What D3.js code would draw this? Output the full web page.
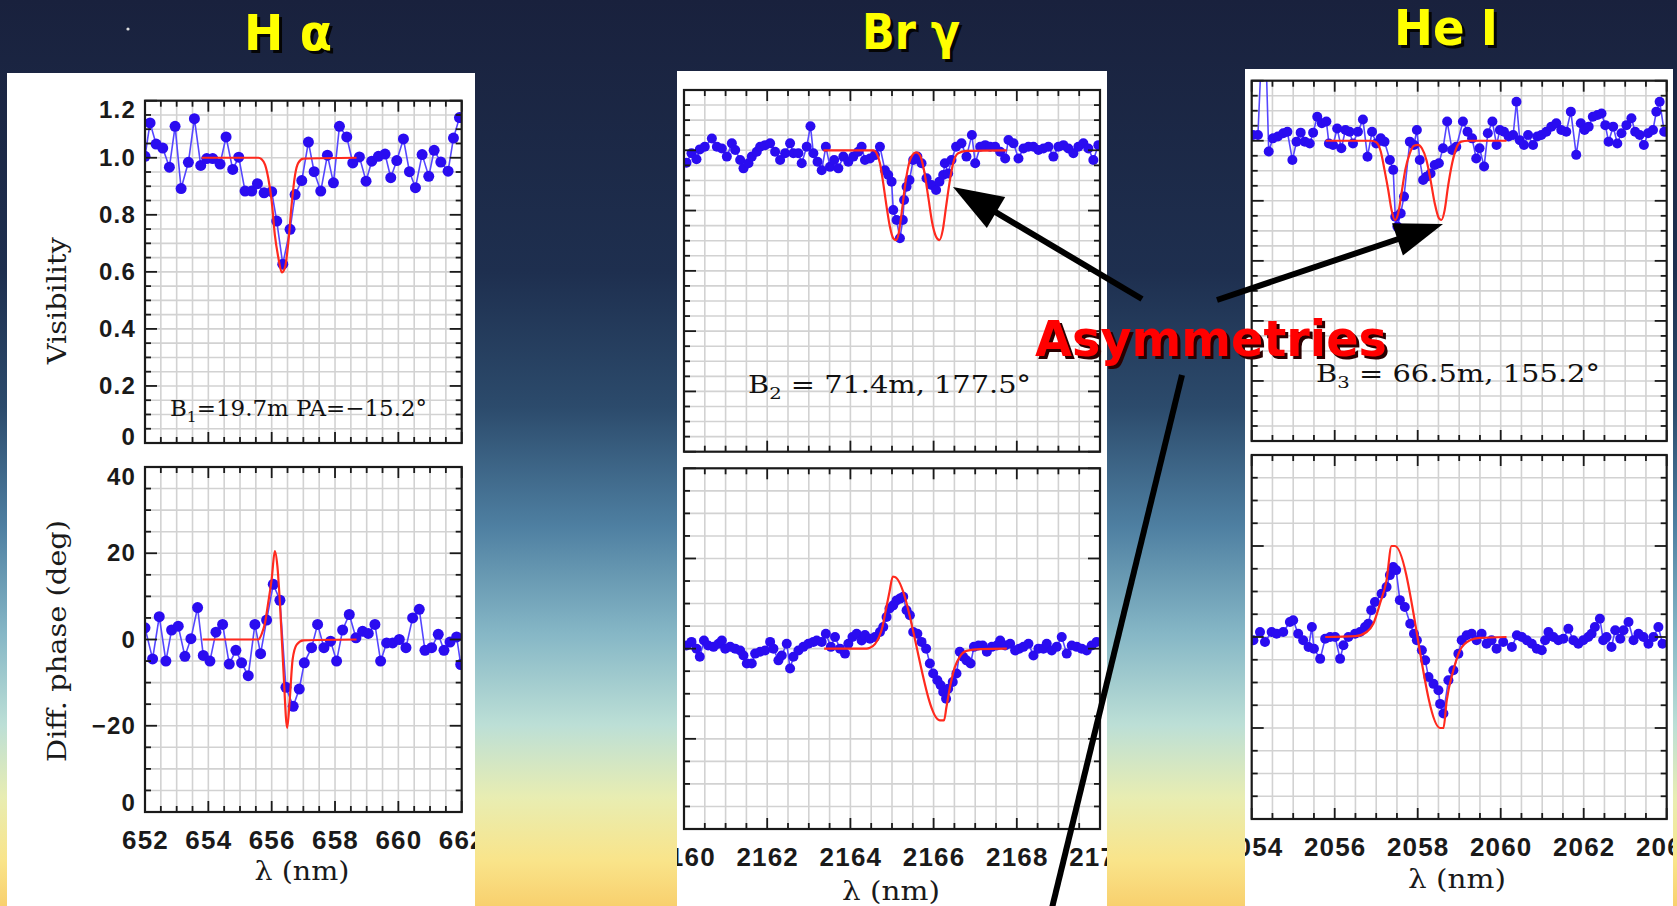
<!DOCTYPE html>
<html>
<head>
<meta charset="UTF-8">
<title>H alpha, Br gamma, He I</title>
<script src="https://d3js.org/d3.v7.min.js"></script>
<style>
  html, body { margin: 0; padding: 0; background: #1a2240; overflow: hidden; }
  svg { display: block; }
</style>
</head>
<body>
<div id="chart"></div>
<script>
// ---- H alpha (nm) ----
const haLam = [652.00, 652.16, 652.35, 652.56, 652.77, 652.95, 653.14, 653.37, 653.56, 653.76, 653.95, 654.14, 654.37, 654.56, 654.77, 654.96, 655.16, 655.37, 655.55, 655.76, 656.00, 656.16, 656.35, 656.58, 656.74, 656.95, 657.16, 657.34, 657.55, 657.76, 657.95, 658.14, 658.37, 658.56, 658.77, 658.98, 659.16, 659.37, 659.58, 659.76, 659.95, 660.16, 660.35, 660.54, 660.75, 660.96, 661.13, 661.34, 661.57, 661.74, 661.93];
const haVis = [1.005, 1.122, 1.048, 1.034, 0.967, 1.110, 0.892, 0.984, 1.137, 0.973, 0.997, 0.997, 0.978, 1.073, 0.959, 1.002, 0.883, 0.883, 0.909, 0.877, 0.881, 0.778, 0.627, 0.749, 0.871, 0.920, 1.055, 0.951, 0.883, 1.009, 0.912, 1.110, 1.073, 0.982, 1.003, 0.918, 0.988, 1.005, 1.013, 0.930, 0.990, 1.066, 0.951, 0.895, 1.011, 0.935, 1.026, 0.985, 0.953, 1.069, 1.141];
const haPhiLam = [652.00, 652.24, 652.45, 652.66, 652.84, 653.05, 653.26, 653.45, 653.66, 653.84, 654.05, 654.24, 654.45, 654.66, 654.87, 655.05, 655.26, 655.47, 655.65, 655.84, 656.05, 656.26, 656.45, 656.68, 656.87, 657.03, 657.26, 657.45, 657.65, 657.86, 658.05, 658.24, 658.45, 658.66, 658.87, 659.05, 659.26, 659.44, 659.63, 659.82, 660.03, 660.24, 660.45, 660.66, 660.84, 661.05, 661.26, 661.44, 661.63, 661.84, 661.97];
const haPhi = [2.7, -4.5, 5.3, -5.0, 2.2, 3.1, -3.9, 0.2, 7.4, -3.7, -5.0, 1.7, 3.5, -5.7, -2.5, -5.4, -8.4, 3.5, -3.3, 4.5, 12.8, 9.1, -11.1, -15.5, -11.5, -5.4, -1.9, 3.5, -1.9, -0.4, -5.0, 2.2, 5.8, 0.4, 1.9, 1.4, 3.5, -5.0, -0.8, -0.8, 0.0, -1.9, 5.0, 7.0, -2.5, -1.9, 1.2, -2.5, -0.6, 0.6, -5.8];
const haModelLam = [653.79, 655.58, 655.68, 655.79, 655.89, 656.00, 656.10, 656.21, 656.32, 656.42, 656.53, 656.63, 656.74, 656.84, 657.00, 658.68];
const haModelVis = [1.0, 1.0, 0.995, 0.976, 0.93, 0.848, 0.73, 0.65, 0.598, 0.615, 0.708, 0.836, 0.941, 0.982, 0.997, 1.0];
const haModelPhiLam = [653.82, 655.58, 655.68, 655.79, 655.89, 656.00, 656.10, 656.18, 656.26, 656.37, 656.49, 656.57, 656.66, 656.79, 657.00, 658.68];
const haModelPhi = [0, 0, 1.2, 3.9, 8.5, 14.0, 20.5, 17.0, 8.5, -7.0, -20.5, -14.0, -4.7, -1.2, -0.2, 0];

// ---- Br gamma (nm) ----
const brgLam = [2160.06, 2160.18, 2160.30, 2160.38, 2160.50, 2160.67, 2160.79, 2160.91, 2161.03, 2161.15, 2161.23, 2161.35, 2161.43, 2161.55, 2161.63, 2161.75, 2161.83, 2161.95, 2162.07, 2162.19, 2162.31, 2162.43, 2162.55, 2162.63, 2162.75, 2162.83, 2162.95, 2163.04, 2163.11, 2163.21, 2163.31, 2163.41, 2163.51, 2163.61, 2163.71, 2163.83, 2163.95, 2164.07, 2164.19, 2164.27, 2164.35, 2164.47, 2164.59, 2164.71, 2164.83, 2164.91, 2164.99, 2165.03, 2165.11, 2165.19, 2165.26, 2165.29, 2165.35, 2165.42, 2165.51, 2165.61, 2165.71, 2165.83, 2165.95, 2166.06, 2166.14, 2166.23, 2166.27, 2166.35, 2166.43, 2166.54, 2166.67, 2166.79, 2166.92, 2167.00, 2167.12, 2167.24, 2167.36, 2167.48, 2167.60, 2167.72, 2167.80, 2167.92, 2168.04, 2168.16, 2168.28, 2168.40, 2168.52, 2168.64, 2168.76, 2168.88, 2169.00, 2169.12, 2169.24, 2169.36, 2169.48, 2169.60, 2169.72, 2169.84, 2169.96];
const brgVis = [0.959, 0.990, 0.970, 1.003, 1.012, 1.039, 1.012, 1.006, 0.979, 1.023, 1.001, 0.968, 0.940, 0.957, 0.979, 0.995, 1.012, 1.017, 1.023, 0.995, 0.968, 0.990, 1.023, 0.990, 0.990, 0.957, 1.012, 1.080, 0.990, 0.962, 0.934, 1.012, 0.945, 0.968, 0.940, 0.979, 0.962, 0.979, 0.995, 1.012, 0.968, 0.973, 0.984, 1.012, 0.934, 0.918, 0.896, 0.802, 0.769, 0.708, 0.769, 0.835, 0.879, 0.901, 0.968, 0.979, 0.957, 0.907, 0.885, 0.868, 0.896, 0.918, 0.957, 0.923, 0.968, 1.012, 1.023, 0.979, 1.051, 0.957, 1.012, 1.017, 1.012, 1.012, 0.995, 0.973, 1.034, 1.023, 0.973, 1.006, 1.012, 1.012, 1.001, 1.006, 1.012, 0.979, 1.012, 1.017, 1.006, 0.990, 1.012, 1.023, 1.006, 0.968, 1.017];
const brgPhiLam = [2160.06, 2160.18, 2160.30, 2160.38, 2160.48, 2160.58, 2160.71, 2160.83, 2160.91, 2160.99, 2161.11, 2161.23, 2161.35, 2161.43, 2161.51, 2161.63, 2161.71, 2161.83, 2161.95, 2162.07, 2162.15, 2162.27, 2162.35, 2162.47, 2162.55, 2162.63, 2162.75, 2162.87, 2162.99, 2163.11, 2163.19, 2163.31, 2163.41, 2163.53, 2163.63, 2163.75, 2163.87, 2163.95, 2164.05, 2164.15, 2164.27, 2164.35, 2164.47, 2164.59, 2164.71, 2164.79, 2164.87, 2164.94, 2165.03, 2165.11, 2165.19, 2165.27, 2165.35, 2165.43, 2165.51, 2165.61, 2165.71, 2165.82, 2165.91, 2165.99, 2166.09, 2166.17, 2166.23, 2166.30, 2166.35, 2166.46, 2166.55, 2166.63, 2166.71, 2166.79, 2166.89, 2166.97, 2167.08, 2167.18, 2167.28, 2167.40, 2167.52, 2167.60, 2167.72, 2167.84, 2167.96, 2168.06, 2168.16, 2168.28, 2168.40, 2168.52, 2168.64, 2168.72, 2168.84, 2168.96, 2169.08, 2169.20, 2169.32, 2169.44, 2169.56, 2169.68, 2169.80, 2169.92];
const brgPhi = [0.7, 1.5, 0, -1.8, 1.8, 0.7, 0.4, 1.1, 1.8, 0, 0.4, 0, -0.4, -1.5, -3.3, -3.3, -1.1, -0.7, -0.4, 1.5, 0, -2.6, -1.5, 1.1, -4.4, -1.8, -0.4, 0.4, 1.1, 1.5, 1.8, 1.5, 3.3, 0.4, 2.6, 0, -1.1, 1.1, 2.6, 3.3, 1.8, 3.0, 2.2, 2.6, 3.7, 4.8, 7.0, 8.9, 9.6, 10.7, 11.1, 11.5, 8.5, 7.4, 3.7, 3.3, 1.5, 0, -3.3, -5.5, -7.0, -8.1, -9.6, -11.1, -8.9, -7.4, -5.5, -0.7, -1.8, -2.6, -3.3, 0.4, 0.7, 0.7, -0.7, 0.4, 0.7, 1.8, 0.7, 1.1, -0.4, 0, 0.4, 1.1, -1.5, 0, 0, 1.1, -0.4, 0.4, 2.6, -1.1, 0.7, 0.4, 0, -0.4, 0.7, 1.5];
const brgModelLam = [2163.35, 2164.55, 2164.63, 2164.71, 2164.79, 2164.87, 2164.95, 2165.03, 2165.10, 2165.16, 2165.23, 2165.31, 2165.39, 2165.49, 2165.58, 2165.67, 2165.77, 2165.87, 2165.97, 2166.06, 2166.14, 2166.22, 2166.30, 2166.38, 2166.47, 2166.59, 2166.79, 2167.76];
const brgModelVis = [1.0, 1.0, 0.99, 0.957, 0.89, 0.813, 0.746, 0.708, 0.702, 0.724, 0.79, 0.879, 0.945, 0.984, 0.993, 0.984, 0.934, 0.846, 0.757, 0.713, 0.702, 0.735, 0.813, 0.89, 0.957, 0.99, 0.998, 1.0];
const brgModelPhiLam = [2163.37, 2164.39, 2164.47, 2164.59, 2164.69, 2164.77, 2164.85, 2164.94, 2165.02, 2165.07, 2166.15, 2166.25, 2166.31, 2166.41, 2166.51, 2166.63, 2166.79, 2167.12, 2167.76];
const brgModelPhi = [0, 0, 0.2, 1.0, 2.6, 4.8, 8.5, 12.6, 16.0, 15.9, -15.9, -15.9, -12.9, -7.8, -4.1, -1.8, -0.5, -0.1, 0];

// ---- He I (nm) ----
const heLam = [2054.03, 2054.15, 2054.30, 2054.41, 2054.51, 2054.63, 2054.76, 2054.86, 2054.98, 2055.08, 2055.18, 2055.28, 2055.40, 2055.48, 2055.58, 2055.69, 2055.80, 2055.86, 2055.96, 2056.06, 2056.16, 2056.26, 2056.36, 2056.44, 2056.56, 2056.68, 2056.79, 2056.90, 2057.00, 2057.11, 2057.20, 2057.33, 2057.41, 2057.46, 2057.51, 2057.59, 2057.67, 2057.81, 2057.91, 2057.98, 2058.05, 2058.13, 2058.21, 2058.31, 2058.41, 2058.51, 2058.61, 2058.71, 2058.83, 2058.93, 2059.09, 2059.20, 2059.31, 2059.41, 2059.49, 2059.60, 2059.69, 2059.80, 2059.90, 2059.98, 2060.08, 2060.19, 2060.30, 2060.38, 2060.46, 2060.56, 2060.66, 2060.78, 2060.88, 2060.98, 2061.10, 2061.22, 2061.34, 2061.46, 2061.58, 2061.69, 2061.82, 2061.93, 2062.02, 2062.12, 2062.22, 2062.33, 2062.43, 2062.52, 2062.60, 2062.71, 2062.81, 2062.91, 2063.03, 2063.15, 2063.24, 2063.35, 2063.45, 2063.55, 2063.67, 2063.75, 2063.83, 2063.94];
const heVis = [1.019, 1.019, 1.5, 0.964, 1.008, 1.014, 1.025, 1.030, 0.936, 0.997, 1.027, 0.997, 0.991, 1.027, 1.080, 1.058, 1.064, 0.991, 0.986, 1.041, 0.975, 1.036, 1.030, 0.991, 1.030, 1.071, 0.947, 1.030, 0.991, 1.008, 0.997, 0.936, 0.903, 0.747, 0.714, 0.758, 0.814, 0.997, 0.986, 1.036, 0.936, 0.869, 0.880, 0.891, 0.919, 0.925, 0.975, 1.064, 0.969, 0.980, 1.064, 1.030, 1.008, 0.941, 0.975, 0.914, 1.025, 1.064, 0.986, 1.036, 1.030, 1.014, 1.019, 1.130, 1.002, 0.986, 1.019, 0.986, 1.014, 1.019, 1.030, 1.047, 1.058, 1.036, 1.030, 1.097, 0.953, 1.058, 1.036, 1.047, 1.080, 1.086, 1.091, 1.052, 0.997, 1.047, 0.991, 1.025, 1.052, 1.075, 1.030, 1.019, 0.986, 1.025, 1.036, 1.097, 1.130, 1.030];
const hePhiLam = [2054.04, 2054.20, 2054.32, 2054.48, 2054.60, 2054.76, 2054.92, 2055.00, 2055.12, 2055.24, 2055.37, 2055.45, 2055.50, 2055.65, 2055.77, 2055.89, 2056.01, 2056.13, 2056.21, 2056.33, 2056.49, 2056.61, 2056.73, 2056.81, 2056.88, 2056.97, 2057.13, 2057.25, 2057.33, 2057.41, 2057.48, 2057.57, 2057.69, 2057.82, 2057.91, 2057.98, 2058.10, 2058.18, 2058.26, 2058.38, 2058.50, 2058.54, 2058.62, 2058.74, 2058.86, 2058.98, 2059.06, 2059.18, 2059.30, 2059.42, 2059.54, 2059.66, 2059.78, 2059.90, 2060.06, 2060.27, 2060.39, 2060.51, 2060.63, 2060.75, 2060.87, 2060.99, 2061.07, 2061.15, 2061.27, 2061.39, 2061.51, 2061.63, 2061.75, 2061.87, 2061.99, 2062.11, 2062.19, 2062.27, 2062.39, 2062.47, 2062.55, 2062.67, 2062.76, 2062.88, 2062.96, 2063.08, 2063.20, 2063.32, 2063.44, 2063.56, 2063.68, 2063.80, 2063.90];
const hePhi = [-0.7, 1.1, -1.1, 1.1, 0.7, 1.1, 3.3, 3.7, 0.7, -0.7, -2.2, 2.2, -2.6, -4.8, -0.4, 0, 0, -4.8, -1.8, 0, 0.7, 1.1, 2.2, 2.9, 5.9, 7.7, 9.5, 11.0, 13.6, 15.4, 14.7, 8.1, 6.6, 2.9, 0.7, -0.7, -2.9, -5.1, -8.8, -10.3, -11.7, -14.7, -16.8, -9.5, -7.3, -3.7, -0.7, 0.4, 0.7, -0.7, 0.7, -1.5, -0.7, -2.6, -1.1, -2.2, 0.4, 0, -0.7, -1.5, -2.6, -2.9, -0.7, 1.1, 0, -0.7, -0.4, 1.8, -0.7, -1.5, -0.7, 0, 0.7, 2.2, 4.0, -0.7, 0, -2.2, 1.5, -0.4, 1.5, 3.3, -0.7, 0.7, 0, -1.5, 0, 2.2, -1.5];
const heModelLam = [2055.78, 2056.88, 2057.00, 2057.11, 2057.20, 2057.29, 2057.37, 2057.45, 2057.53, 2057.61, 2057.70, 2057.81, 2057.91, 2058.01, 2058.10, 2058.21, 2058.31, 2058.41, 2058.51, 2058.57, 2058.65, 2058.73, 2058.83, 2058.93, 2059.05, 2059.21, 2060.14];
const heModelVis = [1.0, 1.0, 0.995, 0.964, 0.903, 0.836, 0.769, 0.736, 0.758, 0.825, 0.903, 0.958, 0.983, 0.986, 0.975, 0.936, 0.869, 0.792, 0.742, 0.736, 0.769, 0.847, 0.925, 0.975, 0.997, 1.0, 1.0];
const heModelPhiLam = [2055.77, 2056.50, 2056.77, 2056.93, 2057.09, 2057.25, 2057.37, 2057.45, 2058.54, 2058.62, 2058.70, 2058.86, 2059.02, 2059.26, 2059.50, 2060.14];
const heModelPhi = [0, 0.2, 1.1, 2.9, 7.3, 12.5, 20, 20, -20, -20, -13.9, -7.3, -2.9, -0.7, -0.2, 0];

// ---- axes ----
const haTicks = [652, 654, 656, 658, 660, 662];
const brgTicks = [2160, 2162, 2164, 2166, 2168, 2170];
const heTicks = [2054, 2056, 2058, 2060, 2062, 2064];
const visTicks = [0, 0.2, 0.4, 0.6, 0.8, 1.0, 1.2];
const visTickLabels = ["0", "0.2", "0.4", "0.6", "0.8", "1.0", "1.2"];
const phiTicks = [-40, -20, 0, 20, 40];
const phiTickLabels = ["0", "\u221220", "0", "20", "40"];

const W = 1677, H = 906;
const GRID = "#d2d2d2", INK = "#1a1a1a", BLUE = "#2a0cf0", RED = "#ff2a1e";
const TICKFONT = "'Liberation Sans', Arial, sans-serif";
const SERIF = "'DejaVu Serif', serif";
const BOLD = "'DejaVu Sans', sans-serif";

const svg = d3.select("#chart").append("svg").attr("width", W).attr("height", H);
const defs = svg.append("defs");

// sky background
const sky = defs.append("linearGradient").attr("id", "sky")
  .attr("x1", 0).attr("y1", 0).attr("x2", 0).attr("y2", 1);
[[0, "#19213d"], [0.3, "#1e2f4f"], [0.45, "#2c4b6c"], [0.58, "#4e7fa1"], [0.7, "#86b7c6"],
 [0.8, "#bcdfd6"], [0.88, "#e8edb2"], [0.95, "#f9e48a"], [1, "#f8d06e"]]
  .forEach(s => sky.append("stop").attr("offset", s[0]).attr("stop-color", s[1]));
svg.append("rect").attr("width", W).attr("height", H).attr("fill", "url(#sky)");
svg.append("circle").attr("cx", 128).attr("cy", 29).attr("r", 1.6).attr("fill", "#ddd");

const panels = [
  { id: "ha", box: [7, 73, 468, 833], xr: [145, 461.7], vis: [443, 100.7], phi: [812, 467],
    xd: [652, 662], xTicks: haTicks,
    vl: haLam, vv: haVis, vml: haModelLam, vmv: haModelVis,
    pl: haPhiLam, pv: haPhi, pml: haModelPhiLam, pmv: haModelPhi,
    r: 5.5, xt: [302, 880, 95], note: { x: 170, y: 416, len: 257, size: 23, sub: "1", text: ["B", "=19.7m PA=\u221215.2\u00b0"] } },
  { id: "brg", box: [677, 71, 430, 835], xr: [684, 1100], vis: [451.7, 90], phi: [829, 468.3],
    xd: [2160, 2170], xTicks: brgTicks,
    vl: brgLam, vv: brgVis, vml: brgModelLam, vmv: brgModelVis,
    pl: brgPhiLam, pv: brgPhi, pml: brgModelPhiLam, pmv: brgModelPhi,
    r: 5, xt: [891, 900, 98], note: { x: 748, y: 393, len: 283, size: 25, sub: "2", text: ["B", " = 71.4m, 177.5\u00b0"] } },
  { id: "he", box: [1245, 69, 428, 837], xr: [1251.7, 1666.7], vis: [441, 80.7], phi: [819, 455],
    xd: [2054, 2064], xTicks: heTicks,
    vl: heLam, vv: heVis, vml: heModelLam, vmv: heModelVis,
    pl: hePhiLam, pv: hePhi, pml: heModelPhiLam, pmv: heModelPhi,
    r: 5, xt: [1457, 888, 98], note: { x: 1316, y: 381.7, len: 284, size: 25, sub: "3", text: ["B", " = 66.5m, 155.2\u00b0"] } }
];

function drawPlot(g, id, x, y, s) {
  const [x0, x1] = x.range(), [yb, yt] = y.range();
  const xd = x.domain(), yd = y.domain();
  defs.append("clipPath").attr("id", "f-" + id).append("rect")
    .attr("x", x0).attr("y", yt).attr("width", x1 - x0).attr("height", yb - yt);

  const xGrid = d3.range(xd[0] + 0.5, xd[1] - 0.01, 0.5);
  const yGrid = d3.range(yd[0] + s.step, yd[1] - s.step / 2, s.step);
  const grid = g.append("g").attr("stroke", GRID).attr("stroke-width", 1.6);
  grid.selectAll(".gx").data(xGrid).join("line")
    .attr("x1", d => x(d)).attr("x2", d => x(d)).attr("y1", yt).attr("y2", yb);
  grid.selectAll(".gy").data(yGrid).join("line")
    .attr("y1", d => y(d)).attr("y2", d => y(d)).attr("x1", x0).attr("x2", x1);

  const plot = g.append("g").attr("clip-path", `url(#f-${id})`);
  const pts = s.lam.map((l, i) => [l, s.val[i]]);
  plot.append("path").datum(pts)
    .attr("d", d3.line().x(d => x(d[0])).y(d => y(d[1])))
    .attr("fill", "none").attr("stroke", "#5546ff").attr("stroke-width", 1.6);
  plot.selectAll("circle").data(pts).join("circle")
    .attr("cx", d => x(d[0])).attr("cy", d => y(d[1])).attr("r", s.r)
    .attr("fill", BLUE);
  const mod = s.mLam.map((l, i) => [l, s.mVal[i]]);
  plot.append("path").datum(mod)
    .attr("d", d3.line().curve(d3.curveMonotoneX).x(d => x(d[0])).y(d => y(d[1])))
    .attr("fill", "none").attr("stroke", RED).attr("stroke-width", 2.2);

  // inward ticks on all four sides
  const tk = g.append("g").attr("stroke", INK).attr("stroke-width", 1.8);
  d3.range(xd[0], xd[1] + 0.01, 0.5).forEach(d => {
    const len = Math.round(d * 2) % 4 === 0 ? 11 : 6;
    tk.append("line").attr("x1", x(d)).attr("x2", x(d)).attr("y1", yb).attr("y2", yb - len);
    tk.append("line").attr("x1", x(d)).attr("x2", x(d)).attr("y1", yt).attr("y2", yt + len);
  });
  d3.range(yd[0], yd[1] + s.step / 2, s.step).forEach(d => {
    const len = s.major.some(m => Math.abs(m - d) < 1e-6) ? 12 : 6;
    tk.append("line").attr("y1", y(d)).attr("y2", y(d)).attr("x1", x0).attr("x2", x0 + len);
    tk.append("line").attr("y1", y(d)).attr("y2", y(d)).attr("x1", x1).attr("x2", x1 - len);
  });
  g.append("rect").attr("x", x0).attr("y", yt).attr("width", x1 - x0).attr("height", yb - yt)
    .attr("fill", "none").attr("stroke", INK).attr("stroke-width", 2.2);

  const ya = g.append("g").attr("transform", `translate(${x0},0)`)
    .call(d3.axisLeft(y).tickValues(s.major).tickFormat((d, i) => s.labels[i]).tickSize(0).tickPadding(9));
  ya.select(".domain").remove();
  ya.attr("font-family", TICKFONT).attr("font-size", 24).attr("font-weight", "bold");
  ya.selectAll("text").attr("fill", INK).attr("letter-spacing", 1.2)
    .attr("y", d => d === yd[1] ? s.shift[0] : d === yd[0] ? s.shift[1] : 0);

  if (s.xTicks) {
    const xa = g.append("g").attr("transform", `translate(0,${yb})`)
      .call(d3.axisBottom(x).tickValues(s.xTicks).tickFormat(d3.format("d")).tickSize(0).tickPadding(19));
    xa.select(".domain").remove();
    xa.attr("font-family", TICKFONT).attr("font-size", 26).attr("font-weight", "bold");
    xa.selectAll("text").attr("fill", INK).attr("letter-spacing", 1.2);
  }
}

panels.forEach(p => {
  defs.append("clipPath").attr("id", "box-" + p.id).append("rect")
    .attr("x", p.box[0]).attr("y", p.box[1]).attr("width", p.box[2]).attr("height", p.box[3]);
  const g = svg.append("g").attr("clip-path", `url(#box-${p.id})`);
  g.append("rect").attr("x", p.box[0]).attr("y", p.box[1]).attr("width", p.box[2]).attr("height", p.box[3])
    .attr("fill", "#fff");

  const x = d3.scaleLinear().domain(p.xd).range(p.xr);
  const yV = d3.scaleLinear().domain([0, 1.2]).range(p.vis);
  const yP = d3.scaleLinear().domain([-40, 40]).range(p.phi);

  drawPlot(g, p.id + "v", x, yV, { step: 0.05, major: visTicks, labels: visTickLabels, shift: [9, -6],
    lam: p.vl, val: p.vv, mLam: p.vml, mVal: p.vmv, r: p.r });
  drawPlot(g, p.id + "p", x, yP, { step: 5, major: phiTicks, labels: phiTickLabels, shift: [10, -9],
    lam: p.pl, val: p.pv, mLam: p.pml, mVal: p.pmv, r: p.r, xTicks: p.xTicks });

  // axis titles
  g.append("text").attr("x", p.xt[0] - p.xt[2] / 2).attr("y", p.xt[1])
    .attr("font-family", SERIF).attr("font-size", 26).attr("fill", INK)
    .attr("textLength", p.xt[2]).attr("lengthAdjust", "spacingAndGlyphs").text("\u03bb (nm)");
  const xl = p.xr[0] - 79;
  g.append("text").attr("transform", `translate(${xl},${p.vis[1] + 200}) rotate(-90)`)
    .attr("text-anchor", "middle").attr("font-family", SERIF).attr("font-size", 26).attr("fill", INK)
    .attr("textLength", 127).attr("lengthAdjust", "spacingAndGlyphs").text("Visibility");
  g.append("text").attr("transform", `translate(${xl},${(p.phi[0] + p.phi[1]) / 2 + 1.5}) rotate(-90)`)
    .attr("text-anchor", "middle").attr("font-family", SERIF).attr("font-size", 26).attr("fill", INK)
    .attr("textLength", 242).attr("lengthAdjust", "spacingAndGlyphs").text("Diff. phase (deg)");

  // baseline note
  const n = p.note;
  const t = g.append("text").attr("x", n.x).attr("y", n.y)
    .attr("font-family", SERIF).attr("font-size", n.size).attr("fill", "#111")
    .attr("textLength", n.len).attr("lengthAdjust", "spacingAndGlyphs");
  t.append("tspan").text(n.text[0]);
  t.append("tspan").attr("font-size", n.size * 0.68).attr("dy", n.size * 0.25).text(n.sub);
  t.append("tspan").attr("dy", -n.size * 0.25).text(n.text[1]);
});

// line titles
const titles = [["H \u03b1", 244, 50, 88], ["Br \u03b3", 862, 49, 98], ["He I", 1394, 45, 104]];
titles.forEach(tt => {
  [["#050505", 3], ["#ffff00", 0]].forEach(([c, o]) => {
    svg.append("text").attr("x", tt[1] + o).attr("y", tt[2] + o)
      .attr("font-family", BOLD).attr("font-weight", "bold").attr("font-size", 50)
      .attr("textLength", tt[3]).attr("lengthAdjust", "spacingAndGlyphs")
      .attr("fill", c).text(tt[0]);
  });
});

// annotation arrows
const ann = svg.append("g");
function arrow(a, b, len, half) {
  const dx = b[0] - a[0], dy = b[1] - a[1], L = Math.hypot(dx, dy);
  const ux = dx / L, uy = dy / L;
  const bx = b[0] - ux * len, by = b[1] - uy * len;
  ann.append("line").attr("x1", a[0]).attr("y1", a[1]).attr("x2", bx + ux * 4).attr("y2", by + uy * 4)
    .attr("stroke", "#000").attr("stroke-width", 6);
  ann.append("polygon")
    .attr("points", [[b[0], b[1]], [bx - uy * half, by + ux * half], [bx + uy * half, by - ux * half]].join(" "))
    .attr("fill", "#000");
}
arrow([1142, 299], [953, 187], 50, 18);
arrow([1217, 300], [1443, 224], 48, 17);
ann.append("line").attr("x1", 1182).attr("y1", 375).attr("x2", 1051).attr("y2", 912)
  .attr("stroke", "#000").attr("stroke-width", 6);

[["#2a0000", 3], ["#ff0000", 0]].forEach(([c, o]) => {
  svg.append("text").attr("x", 1035 + o).attr("y", 356 + o)
    .attr("font-family", BOLD).attr("font-weight", "bold").attr("font-size", 50)
    .attr("textLength", 352).attr("lengthAdjust", "spacingAndGlyphs")
    .attr("fill", c).text("Asymmetries");
});
</script>
</body>
</html>
